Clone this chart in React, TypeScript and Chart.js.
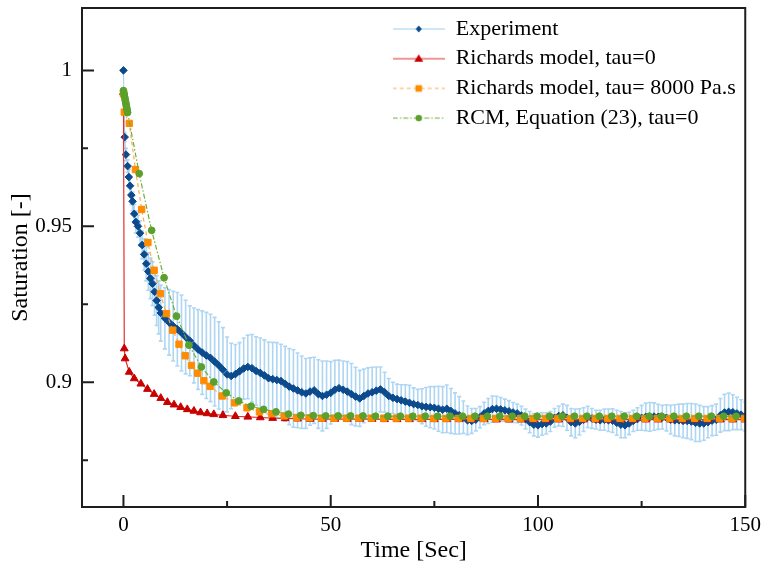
import React, { useEffect, useRef } from 'react';
import { Chart, registerables } from 'chart.js';

Chart.register(...registerables);

const FONT = "'Liberation Serif', 'Times New Roman', serif";

// ---------- Experiment ----------
const expTime = [
  0, 0.3, 0.6, 1, 1.3, 1.6, 1.9, 2.2, 2.6, 3, 3.5, 4, 4.5, 5, 5.5, 6, 6.5, 7, 7.5, 8, 8.5, 9,
  10, 11, 12, 13, 14, 15, 16, 17, 18, 19, 20, 21, 22, 23, 24, 25, 26, 27, 28, 29,
  30, 31, 32, 33, 34, 35, 36, 37, 38, 39, 40, 41, 42, 43, 44, 45, 46, 47, 48, 49,
  50, 51, 52, 53, 54, 55, 56, 57, 58, 59, 60, 61, 62, 63, 64, 65, 66, 67, 68, 69,
  70, 71, 72, 73, 74, 75, 76, 77, 78, 79, 80, 81, 82, 83, 84, 85, 86, 87, 88, 89,
  90, 91, 92, 93, 94, 95, 96, 97, 98, 99, 100, 101, 102, 103, 104, 105, 106, 107, 108, 109,
  110, 111, 112, 113, 114, 115, 116, 117, 118, 119, 120, 121, 122, 123, 124, 125, 126, 127, 128, 129,
  130, 131, 132, 133, 134, 135, 136, 137, 138, 139, 140, 141, 142, 143, 144, 145, 146, 147, 148, 149, 150,
];
const expSat = [
  1.0, 0.9786, 0.973, 0.9693, 0.9658, 0.963, 0.96, 0.958, 0.954, 0.9514, 0.95, 0.9478, 0.944, 0.941, 0.938, 0.9355, 0.9333, 0.9316, 0.929, 0.9262, 0.924, 0.9222,
  0.9205, 0.9192, 0.918, 0.917, 0.9158, 0.9145, 0.9133, 0.9118, 0.9105, 0.9095, 0.9086, 0.9078, 0.9066, 0.9054, 0.904, 0.9025, 0.902, 0.9026, 0.9035, 0.9044,
  0.9049, 0.9045, 0.9036, 0.903, 0.9022, 0.9013, 0.901, 0.9007, 0.9004, 0.8995, 0.8986, 0.898, 0.8974, 0.8968, 0.8964, 0.897, 0.8974, 0.8962, 0.8956, 0.896,
  0.8966, 0.8976, 0.8981, 0.8976, 0.897, 0.8962, 0.8954, 0.8948, 0.8956, 0.8964, 0.8968, 0.8973, 0.8977, 0.8968, 0.8956, 0.895, 0.8946, 0.8942, 0.8938, 0.8934,
  0.893, 0.8927, 0.8923, 0.8921, 0.892, 0.8918, 0.8915, 0.8912, 0.8915, 0.8908, 0.89, 0.8894, 0.8888, 0.8878, 0.8876, 0.888, 0.8888, 0.89, 0.8908, 0.8914,
  0.8915, 0.8913, 0.891, 0.8907, 0.8903, 0.89, 0.8893, 0.8882, 0.8872, 0.8864, 0.8862, 0.8866, 0.8868, 0.8874, 0.8886, 0.8892, 0.8894, 0.8886, 0.8872, 0.8868,
  0.8873, 0.888, 0.8889, 0.8884, 0.888, 0.8878, 0.888, 0.8878, 0.8877, 0.887, 0.8864, 0.8862, 0.8868, 0.8876, 0.8882, 0.8886, 0.8889, 0.8889, 0.889, 0.8889,
  0.8888, 0.8886, 0.888, 0.8878, 0.8878, 0.8876, 0.8876, 0.8874, 0.887, 0.8868, 0.8868, 0.8872, 0.8877, 0.888, 0.8894, 0.8903, 0.8905, 0.8904, 0.89, 0.8896, 0.889,
];
const expErr = [
  0, 0.0015, 0.002, 0.002, 0.0025, 0.0025, 0.003, 0.003, 0.003, 0.0035, 0.0035, 0.004, 0.0045, 0.005, 0.0055, 0.006, 0.0065, 0.007, 0.0075, 0.008, 0.0085, 0.009,
  0.0098, 0.0105, 0.0112, 0.0118, 0.0122, 0.0118, 0.0112, 0.012, 0.0128, 0.0134, 0.0138, 0.014, 0.0142, 0.014, 0.0135, 0.012, 0.0105, 0.0095, 0.0092, 0.0098,
  0.0102, 0.0108, 0.011, 0.0112, 0.0114, 0.0116, 0.0118, 0.012, 0.0118, 0.012, 0.0122, 0.0124, 0.012, 0.0116, 0.0112, 0.0108, 0.0106, 0.011, 0.0112, 0.0108,
  0.01, 0.0094, 0.009, 0.0092, 0.0096, 0.0098, 0.0094, 0.009, 0.0086, 0.0082, 0.008, 0.0076, 0.0072, 0.0064, 0.0056, 0.005, 0.0048, 0.005, 0.0054, 0.0056,
  0.0052, 0.005, 0.0056, 0.0062, 0.0066, 0.0068, 0.0072, 0.0074, 0.0076, 0.0072, 0.0066, 0.006, 0.0052, 0.0046, 0.004, 0.0036, 0.0034, 0.0036, 0.004, 0.0042,
  0.004, 0.0038, 0.0036, 0.0034, 0.0032, 0.003, 0.003, 0.0032, 0.0034, 0.0036, 0.0038, 0.0036, 0.0034, 0.0032, 0.003, 0.0032, 0.0036, 0.004, 0.0044, 0.0046,
  0.0042, 0.0038, 0.0034, 0.0032, 0.003, 0.0032, 0.0034, 0.0036, 0.0038, 0.004, 0.0042, 0.004, 0.0036, 0.0034, 0.0036, 0.004, 0.0044, 0.0046, 0.0044, 0.004,
  0.0038, 0.0042, 0.0046, 0.005, 0.0052, 0.0054, 0.0056, 0.0058, 0.006, 0.0058, 0.0054, 0.005, 0.0048, 0.005, 0.0054, 0.0058, 0.006, 0.0056, 0.0052, 0.0048, 0.0046,
];

// ---------- Richards model, tau=0 ----------
const richTime = [
  0, 0.2, 0.4, 1.4, 2.6, 4.2, 5.8, 7.4, 9, 10.6, 12.2, 13.8, 15.4, 17, 18.6, 20.2, 21.8, 24, 27, 30, 33, 36, 39, 42,
  45, 48, 51, 54, 57, 60, 63, 66, 69, 72, 75, 78, 81, 84, 87, 90, 93, 96, 99, 102, 105, 108, 111, 114, 117, 120,
  123, 126, 129, 132, 135, 138, 141, 144, 147, 150,
];
const richSat = [
  0.993, 0.9108, 0.9076, 0.9033, 0.9012, 0.8995, 0.8978, 0.8962, 0.8949, 0.8936, 0.8928, 0.892, 0.8913, 0.8908, 0.8903, 0.89, 0.8897, 0.8894, 0.8891, 0.8889, 0.8887, 0.8885, 0.8884, 0.8883,
  0.8882, 0.8882, 0.8882, 0.8882, 0.8882, 0.8882, 0.8881, 0.8881, 0.8881, 0.8881, 0.8881, 0.8881, 0.8881, 0.8881, 0.8881, 0.888, 0.888, 0.888, 0.888, 0.888, 0.888, 0.888, 0.888, 0.888, 0.888, 0.888,
  0.888, 0.888, 0.888, 0.888, 0.888, 0.888, 0.888, 0.888, 0.888, 0.888,
];

// ---------- Richards model, tau = 8000 Pa.s ----------
const rich8000Time = [
  0, 0.2, 1.4, 2.9, 4.4, 5.9, 7.4, 8.9, 10.4, 11.9, 13.4, 14.9, 16.4, 17.9, 19.4, 20.9, 23.8, 26.8, 29.8, 32.8, 35.8, 38.8, 41.8, 44.8,
  47.8, 50.8, 53.8, 56.8, 59.8, 62.8, 65.8, 68.8, 71.8, 74.8, 77.8, 80.8, 83.8, 86.8, 89.8, 92.8, 95.8, 98.8, 101.8, 104.8,
  107.8, 110.8, 113.8, 116.8, 119.8, 122.8, 125.8, 128.8, 131.8, 134.8, 137.8, 140.8, 143.8, 146.8, 149.8,
];
const rich8000Sat = [
  0.9925, 0.9866, 0.983, 0.9682, 0.9554, 0.9448, 0.9359, 0.9284, 0.922, 0.9167, 0.9122, 0.9085, 0.9054, 0.9029, 0.9005, 0.8987, 0.8956, 0.8934, 0.8918, 0.8905, 0.8899, 0.8892, 0.8887, 0.8886,
  0.8885, 0.8885, 0.8885, 0.8885, 0.8885, 0.8885, 0.8885, 0.8885, 0.8885, 0.8884, 0.8884, 0.8884, 0.8884, 0.8884, 0.8884, 0.8884, 0.8884, 0.8884, 0.8884, 0.8884,
  0.8884, 0.8884, 0.8884, 0.8884, 0.8884, 0.8884, 0.8884, 0.8884, 0.8884, 0.8884, 0.8884, 0.8884, 0.8884, 0.8884, 0.8884,
];

// ---------- RCM, Equation (23), tau=0 ----------
const rcmTime = [
  0, 0.1, 0.2, 0.3, 0.4, 0.5, 0.6, 0.7, 0.8, 0.9, 1.0, 3.8, 6.8, 9.8, 12.8, 15.8, 18.8, 21.8, 24.8, 27.8, 30.8, 33.8, 36.8, 39.8, 42.8, 45.8,
  48.8, 51.8, 54.8, 57.8, 60.8, 63.8, 66.8, 69.8, 72.8, 75.8, 78.8, 81.8, 84.8, 87.8, 90.8, 93.8, 96.8, 99.8, 102.8, 105.8,
  108.8, 111.8, 114.8, 117.8, 120.8, 123.8, 126.8, 129.8, 132.8, 135.8, 138.8, 141.8, 144.8, 147.8,
];
const rcmSat = [
  0.9935, 0.9928, 0.9921, 0.9914, 0.9907, 0.99, 0.9893, 0.9886, 0.9879, 0.9872, 0.9865, 0.9669, 0.9487, 0.9335, 0.9212, 0.9119, 0.9049, 0.9001, 0.8966, 0.894, 0.8923, 0.8913, 0.8905, 0.8898, 0.8894, 0.8893,
  0.8892, 0.8892, 0.8892, 0.8892, 0.8891, 0.8891, 0.8891, 0.8891, 0.8891, 0.8891, 0.8891, 0.8891, 0.8891, 0.8891, 0.8891, 0.8891, 0.8891, 0.8891, 0.8891, 0.8891,
  0.8891, 0.8891, 0.8891, 0.8891, 0.8891, 0.8891, 0.8891, 0.8891, 0.8891, 0.8891, 0.8891, 0.8891, 0.8891, 0.8891,
];

const seriesNames = [
  'Experiment',
  'Richards model, tau=0',
  'Richards model, tau= 8000 Pa.s',
  'RCM, Equation (23), tau=0',
];

const xTickValues = [0, 50, 100, 150];
const xTickLabels = ['0', '50', '100', '150'];
const yTickValues = [0.9, 0.95, 1];
const yTickLabels = ['0.9', '0.95', '1'];
const xMinorTicks = [25, 75, 125];
const yMinorTicks = [0.875, 0.925, 0.975];

const xTitle = 'Time [Sec]';
const yTitle = 'Saturation [-]';

const COL = {
  expLine: 'rgb(160,205,240)',
  expPoint: '#0b4a8c',
  err: 'rgba(140,196,238,0.7)',
  redLine: '#e0302a',
  redPoint: '#c80000',
  orLine: '#ffaa55',
  orPoint: '#ff8c00',
  grLine: '#6fae3c',
  grPoint: '#5aa02a',
  frame: '#1e1e1e',
};

const toXY = (t: number[], v: number[]) => t.map((x, i) => ({ x, y: v[i] }));

function makeSample(kind: number): HTMLCanvasElement {
  const c = document.createElement('canvas');
  c.width = 52;
  c.height = 14;
  const g = c.getContext('2d')!;
  const cy = 7;
  g.lineWidth = 1.2;
  if (kind === 0) { g.strokeStyle = COL.expLine; g.setLineDash([]); }
  if (kind === 1) { g.strokeStyle = COL.redLine; g.setLineDash([]); }
  if (kind === 2) { g.strokeStyle = COL.orLine; g.setLineDash([4, 3]); }
  if (kind === 3) { g.strokeStyle = COL.grLine; g.setLineDash([5, 2, 1.5, 2]); }
  g.beginPath();
  g.moveTo(0, cy);
  g.lineTo(52, cy);
  g.stroke();
  g.setLineDash([]);
  const cx = 26;
  g.beginPath();
  if (kind === 0) {
    g.fillStyle = COL.expPoint;
    g.moveTo(cx, cy - 3.5); g.lineTo(cx + 3, cy); g.lineTo(cx, cy + 3.5); g.lineTo(cx - 3, cy); g.closePath();
  } else if (kind === 1) {
    g.fillStyle = COL.redPoint;
    g.moveTo(cx, cy - 4.5); g.lineTo(cx + 4.5, cy + 3); g.lineTo(cx - 4.5, cy + 3); g.closePath();
  } else if (kind === 2) {
    g.fillStyle = COL.orPoint;
    g.rect(cx - 3.3, cy - 3.3, 6.6, 6.6);
  } else {
    g.fillStyle = COL.grPoint;
    g.arc(cx, cy, 3.2, 0, Math.PI * 2);
  }
  g.fill();
  return c;
}

const errorBarPlugin = {
  id: 'errorBars',
  beforeDatasetsDraw(chart: any) {
    const { ctx, chartArea, scales } = chart;
    const xs = scales.x;
    const ys = scales.y;
    ctx.save();
    ctx.beginPath();
    ctx.rect(chartArea.left, chartArea.top, chartArea.right - chartArea.left, chartArea.bottom - chartArea.top);
    ctx.clip();
    ctx.strokeStyle = COL.err;
    ctx.lineWidth = 1.6;
    ctx.beginPath();
    expTime.forEach((t, i) => {
      const e = expErr[i];
      if (!e) return;
      const px = xs.getPixelForValue(t);
      const top = ys.getPixelForValue(expSat[i] + e);
      const bot = ys.getPixelForValue(expSat[i] - e);
      ctx.moveTo(px, top);
      ctx.lineTo(px, bot);
      ctx.moveTo(px - 2, top);
      ctx.lineTo(px + 2, top);
      ctx.moveTo(px - 2, bot);
      ctx.lineTo(px + 2, bot);
    });
    ctx.stroke();
    ctx.restore();
  },
};

const framePlugin = {
  id: 'frameTicks',
  afterDatasetsDraw(chart: any) {
    const { ctx, chartArea, scales } = chart;
    const xs = scales.x;
    const ys = scales.y;
    const { left, right, top, bottom } = chartArea;
    ctx.save();
    ctx.strokeStyle = COL.frame;
    ctx.lineWidth = 2;
    ctx.beginPath();
    ctx.rect(left, top, right - left, bottom - top);
    ctx.stroke();
    ctx.beginPath();
    xTickValues.forEach((v) => {
      const px = xs.getPixelForValue(v);
      ctx.moveTo(px, bottom);
      ctx.lineTo(px, bottom - 12);
    });
    xMinorTicks.forEach((v) => {
      const px = xs.getPixelForValue(v);
      ctx.moveTo(px, bottom);
      ctx.lineTo(px, bottom - 6);
    });
    yTickValues.forEach((v) => {
      const py = ys.getPixelForValue(v);
      ctx.moveTo(left, py);
      ctx.lineTo(left + 12, py);
    });
    yMinorTicks.forEach((v) => {
      const py = ys.getPixelForValue(v);
      ctx.moveTo(left, py);
      ctx.lineTo(left + 6, py);
    });
    ctx.stroke();
    ctx.restore();
  },
};

const legendPosPlugin = {
  id: 'legendPos',
  afterLayout(chart: any) {
    const l = chart.legend;
    if (!l) return;
    l.left = 385;
    l.top = 10.3;
  },
};

export default function App() {
  const ref = useRef<HTMLCanvasElement>(null);

  useEffect(() => {
    if (!ref.current) return;
    Chart.defaults.font.family = FONT;
    Chart.defaults.color = '#000';
    const samples = [0, 1, 2, 3].map(makeSample);

    const chart = new Chart(ref.current, {
      type: 'scatter',
      data: {
        datasets: [
          {
            label: seriesNames[0],
            data: toXY(expTime, expSat),
            showLine: true,
            borderColor: COL.expLine,
            borderWidth: 1,
            pointStyle: 'rectRot',
            pointRadius: 3.8,
            pointBackgroundColor: COL.expPoint,
            pointBorderColor: COL.expPoint,
            pointBorderWidth: 1,
            order: 4,
          },
          {
            label: seriesNames[1],
            data: toXY(richTime, richSat),
            showLine: true,
            borderColor: COL.redLine,
            borderWidth: 1.2,
            pointStyle: 'triangle',
            pointRadius: 4.5,
            pointBackgroundColor: COL.redPoint,
            pointBorderColor: COL.redPoint,
            pointBorderWidth: 1,
            order: 3,
          },
          {
            label: seriesNames[2],
            data: toXY(rich8000Time, rich8000Sat),
            showLine: true,
            borderColor: COL.orLine,
            borderWidth: 1.2,
            borderDash: [4, 3],
            pointStyle: 'rect',
            pointRadius: 4.5,
            pointBackgroundColor: COL.orPoint,
            pointBorderColor: COL.orPoint,
            pointBorderWidth: 1,
            order: 2,
          },
          {
            label: seriesNames[3],
            data: toXY(rcmTime, rcmSat),
            showLine: true,
            borderColor: COL.grLine,
            borderWidth: 1.2,
            borderDash: [5, 2, 1.5, 2],
            pointStyle: 'circle',
            pointRadius: 3.4,
            pointBackgroundColor: COL.grPoint,
            pointBorderColor: COL.grPoint,
            pointBorderWidth: 1,
            order: 1,
          },
        ],
      },
      options: {
        animation: false,
        responsive: true,
        maintainAspectRatio: false,
        devicePixelRatio: 1,
        layout: { padding: { top: 8, right: 20, left: 0, bottom: 0 } },
        plugins: {
          tooltip: { enabled: false },
          legend: {
            display: true,
            position: 'chartArea',
            align: 'start',
            labels: {
              usePointStyle: true,
              pointStyleWidth: 52,
              padding: 7.7,
              color: '#000',
              font: { size: 22, family: FONT },
              generateLabels: () =>
                seriesNames.map((name, i) => ({
                  text: name,
                  pointStyle: samples[i],
                  fillStyle: 'transparent',
                  strokeStyle: 'transparent',
                  lineWidth: 0,
                  hidden: false,
                  datasetIndex: i,
                  fontColor: '#000',
                })),
            },
          },
        },
        scales: {
          x: {
            type: 'linear',
            min: -10,
            max: 150,
            grid: { display: false, drawTicks: false },
            border: { display: false },
            afterBuildTicks: (s: any) => {
              s.ticks = xTickValues.map((v) => ({ value: v }));
            },
            afterFit: (s: any) => {
              s.height = 65;
            },
            ticks: {
              autoSkip: false,
              maxRotation: 0,
              padding: 6,
              color: '#000',
              font: { size: 21, family: FONT },
              callback: (_v: any, i: number) => xTickLabels[i],
            },
            title: {
              display: true,
              text: xTitle,
              color: '#000',
              font: { size: 24, family: FONT },
              padding: { top: 0, bottom: 7 },
            },
          },
          y: {
            type: 'linear',
            min: 0.86,
            max: 1.02,
            grid: { display: false, drawTicks: false },
            border: { display: false },
            afterBuildTicks: (s: any) => {
              s.ticks = yTickValues.map((v) => ({ value: v }));
            },
            afterFit: (s: any) => {
              s.width = 82;
              s.paddingTop = 0;
              s.paddingBottom = 0;
            },
            ticks: {
              autoSkip: false,
              padding: 10,
              color: '#000',
              font: { size: 21, family: FONT },
              callback: (_v: any, i: number) => yTickLabels[i],
            },
            title: {
              display: true,
              text: yTitle,
              color: '#000',
              font: { size: 24, family: FONT },
              padding: { top: 6, bottom: 0 },
            },
          },
        },
      } as any,
      plugins: [errorBarPlugin, framePlugin, legendPosPlugin],
    });
    return () => chart.destroy();
  }, []);

  return (
    <div style={{ position: 'fixed', left: 0, top: 0, width: 767, height: 572, background: '#fff' }}>
      <canvas ref={ref} />
    </div>
  );
}
